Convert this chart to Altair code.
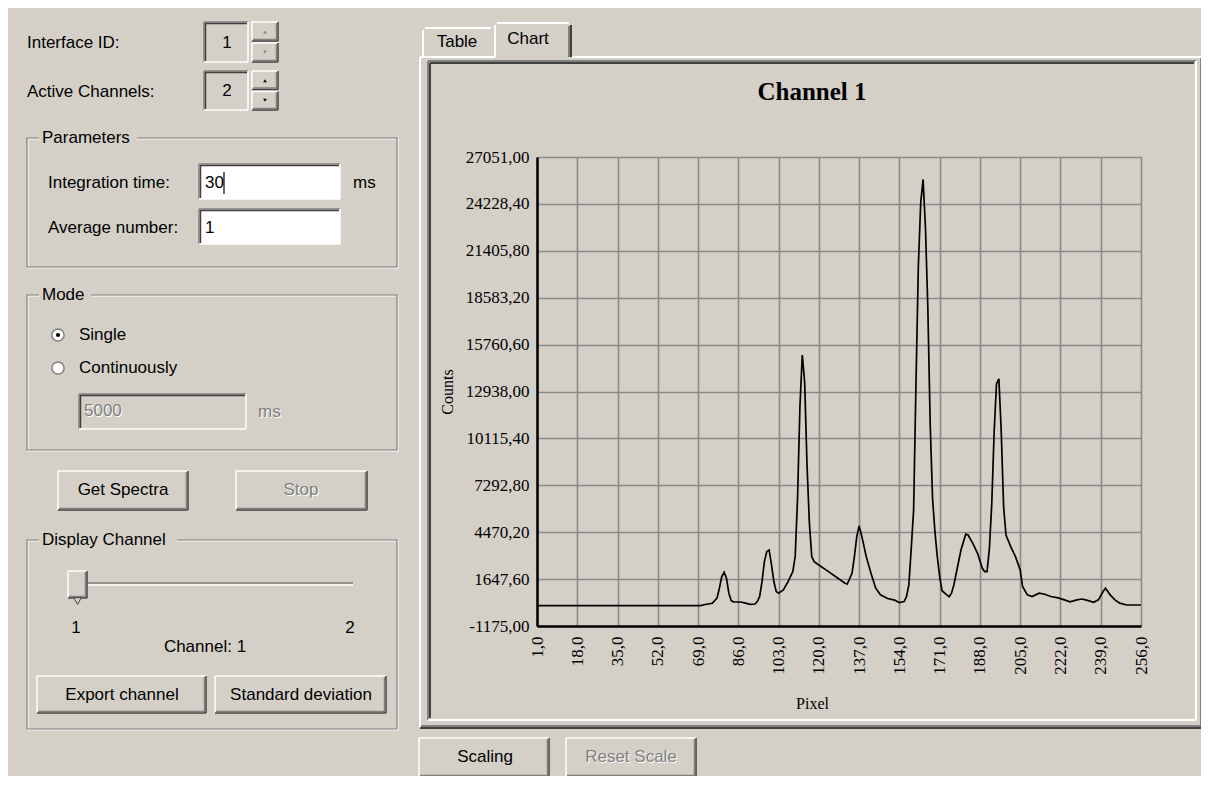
import altair as alt
import pandas as pd

# ---------------- data ----------------
pixel = [1, 70, 72, 75, 77, 78, 79, 80, 81, 82, 83, 84, 87, 89, 91, 93, 94, 95, 96, 97,
         98, 99, 100, 101, 102, 103, 105, 107, 109, 110, 111, 112, 113, 114, 115, 116, 117,
         118, 120, 123, 127, 131, 132, 134, 135, 136, 137, 138, 140, 142, 144, 146, 149,
         152, 154, 156, 157, 158, 159, 160, 161, 162, 163, 164, 165, 166, 167, 168, 169,
         170, 171, 172, 174, 175, 176, 177, 178, 180, 182, 183, 185, 187, 189, 190, 191,
         192, 193, 194, 195, 196, 197, 198, 199, 201, 203, 205, 206, 208, 210, 213, 215,
         218, 221, 224, 226, 229, 231, 233, 236, 238, 240, 241, 243, 245, 247, 250, 256]
counts = [50, 50, 120, 190, 500, 1100, 1800, 2060, 1700, 800, 350, 280, 270, 200, 130, 150,
          300, 600, 1500, 2700, 3300, 3400, 2500, 1500, 900, 800, 1000, 1500, 2100, 3000,
          6500, 12000, 15135, 13500, 8500, 5000, 3000, 2700, 2500, 2200, 1800, 1400, 1350,
          2000, 3000, 4200, 4850, 4300, 3000, 2000, 1100, 700, 480, 380, 230, 300, 600, 1300,
          3500, 5800, 13400, 20500, 24300, 25700, 22800, 18000, 11000, 6500, 4500, 3000, 1800,
          950, 700, 590, 800, 1300, 2000, 3400, 4350, 4300, 3800, 3200, 2300, 2100, 2100,
          3500, 6200, 10500, 13400, 13700, 10500, 6000, 4300, 3600, 3000, 2200, 1200, 700,
          600, 800, 750, 600, 520, 380, 280, 400, 450, 380, 250, 400, 900, 1100, 700, 400,
          200, 90, 90]

x_ticks = [1, 18, 35, 52, 69, 86, 103, 120, 137, 154, 171, 188, 205, 222, 239, 256]
y_ticks = [-1175.0, 1647.6, 4470.2, 7292.8, 10115.4, 12938.0, 15760.6, 18583.2,
           21405.8, 24228.4, 27051.0]

chart_title = "Channel 1"
x_title = "Pixel"
y_title = "Counts"
tab_labels = ["Table", "Chart"]
button_labels = ["Scaling", "Reset Scale"]
form_labels = ["Interface ID:", "Active Channels:", "Integration time:", "Average number:",
               "ms", "Single", "Continuously", "5000", "ms", "Channel:  1"]
form_values = ["1", "2", "30", "1"]
group_labels = ["Parameters", "Mode", "Display Channel"]
form_buttons = ["Get Spectra", "Stop", "Export channel", "Standard deviation"]
slider_ends = ["1", "2"]

# ---------------- styling ----------------
W, H = 604, 469
OX, OY = 537, 157          # page position of the plot area's top-left corner
BG = "#D4D0C8"
SERIF = "Liberation Serif"
SANS = "Liberation Sans"
WHITE, GRAY, DARK, BLACK = "#FFFFFF", "#808080", "#404040", "#000000"

df = pd.DataFrame({"Pixel": pixel, "Counts": counts})
one = pd.DataFrame({"k": [0]})

line = alt.Chart(df).mark_line(color=BLACK, strokeWidth=1.7).encode(
    x=alt.X("Pixel:Q",
            scale=alt.Scale(domain=[1, 256], nice=False, zero=False),
            axis=alt.Axis(values=x_ticks, title=x_title,
                          labelExpr="replace(format(datum.value, '.1f'), '.', ',')",
                          labelAngle=270, labelAlign="right", labelBaseline="middle",
                          labelPadding=10, labelFont=SERIF, labelFontSize=17,
                          labelColor=BLACK, labelOverlap=False,
                          titleFont=SERIF, titleFontSize=16, titleFontWeight="normal",
                          titleColor=BLACK, titleX=275, titleY=77,
                          titleBaseline="middle", ticks=False,
                          domainColor=BLACK, domainWidth=2.5,
                          gridColor="#8A8A8A", gridWidth=1.6, grid=True)),
    y=alt.Y("Counts:Q",
            scale=alt.Scale(domain=[-1175, 27051], nice=False, zero=False),
            axis=alt.Axis(values=y_ticks, title=y_title,
                          labelExpr="(datum.value < 0 ? '-' : '') + replace(format(abs(datum.value), '.2f'), '.', ',')",
                          labelPadding=8, labelFont=SERIF, labelFontSize=17,
                          labelColor=BLACK, labelOverlap=False,
                          titleFont=SERIF, titleFontSize=16, titleFontWeight="normal",
                          titleColor=BLACK, titleX=-90, titleY=H / 2,
                          titleBaseline="middle", ticks=False,
                          domainColor=BLACK, domainWidth=2.5,
                          gridColor="#8A8A8A", gridWidth=1.6, grid=True)),
)


# ---------- window decoration helpers (page pixel coordinates) ----------
def hseg(x1, x2, y, color, w=1.5):
    return alt.Chart(one).mark_rule(color=color, strokeWidth=w).encode(
        x=alt.value(x1 - OX), x2=alt.value(x2 - OX), y=alt.value(y - OY))


def vseg(x, y1, y2, color, w=1.5):
    return alt.Chart(one).mark_rule(color=color, strokeWidth=w).encode(
        x=alt.value(x - OX), y=alt.value(y1 - OY), y2=alt.value(y2 - OY))


def box(x1, y1, x2, y2, fill=None, stroke=None, w=1):
    kw = {}
    if fill is not None:
        kw["fill"] = fill
    else:
        kw["fillOpacity"] = 0
    if stroke is not None:
        kw["stroke"] = stroke
        kw["strokeWidth"] = w
    return alt.Chart(one).mark_rect(**kw).encode(
        x=alt.value(x1 - OX), x2=alt.value(x2 - OX),
        y=alt.value(y1 - OY), y2=alt.value(y2 - OY))


def text(x, y, s, color=BLACK, size=17, align="center", font=SANS, weight="normal"):
    return alt.Chart(one).mark_text(font=font, fontSize=size, color=color, align=align,
                                    baseline="middle", fontWeight=weight).encode(
        x=alt.value(x - OX), y=alt.value(y - OY), text=alt.value(s))


def dim_text(x, y, s, align="center"):
    return [text(x + 1, y + 1, s, color=WHITE, align=align),
            text(x, y, s, color=GRAY, align=align)]


def raised(x1, y1, x2, y2):
    return [hseg(x1, x2, y1, WHITE), vseg(x1, y1, y2, WHITE),
            hseg(x1, x2, y2, DARK), vseg(x2, y1, y2, DARK),
            hseg(x1 + 1, x2 - 1, y2 - 1.5, GRAY), vseg(x2 - 1.5, y1 + 1, y2 - 1, GRAY)]


def sunken(x1, y1, x2, y2, fill=None):
    out = []
    if fill is not None:
        out.append(box(x1, y1, x2, y2, fill=fill))
    out += [hseg(x1, x2, y1, GRAY), vseg(x1, y1, y2, GRAY),
            hseg(x1 + 1.5, x2 - 1, y1 + 1.5, DARK), vseg(x1 + 1.5, y1 + 1, y2 - 1, DARK),
            hseg(x1, x2, y2, WHITE), vseg(x2, y1, y2, WHITE)]
    return out


def group(x1, y1, x2, y2, label, lw):
    return [box(x1 + 1, y1 + 1, x2 + 1, y2 + 1, stroke=WHITE, w=1.2),
            box(x1, y1, x2, y2, stroke=GRAY, w=1.2),
            box(x1 + 12, y1 - 8, x1 + 16 + lw, y1 + 8, fill=BG),
            text(x1 + 15, y1, label, align="left")]


def spin(x1, y1, x2, y2, active):
    ym = (y1 + y2) / 2
    col = BLACK if active else GRAY
    out = raised(x1, y1, x2, ym - 1) + raised(x1, ym + 1, x2, y2)
    cx = (x1 + x2) / 2
    out.append(alt.Chart(one).mark_point(shape="triangle-up", filled=True, color=col,
                                         size=14, opacity=1).encode(
        x=alt.value(cx - OX), y=alt.value((y1 + ym) / 2 - OY)))
    out.append(alt.Chart(one).mark_point(shape="triangle-down", filled=True, color=col,
                                         size=14, opacity=1).encode(
        x=alt.value(cx - OX), y=alt.value((ym + y2) / 2 - OY)))
    return out


def radio(cx, cy, checked):
    out = [alt.Chart(one).mark_point(shape="circle", filled=True, fill=WHITE,
                                     stroke=GRAY, strokeWidth=1.5, size=150,
                                     opacity=1).encode(
        x=alt.value(cx - OX), y=alt.value(cy - OY))]
    if checked:
        out.append(alt.Chart(one).mark_point(shape="circle", filled=True, color=BLACK,
                                             size=18, opacity=1).encode(
            x=alt.value(cx - OX), y=alt.value(cy - OY)))
    return out


decor = []
# ---- right side: tab control, chart frame, buttons ----
decor += [
    hseg(420, 495, 57, WHITE, 2), hseg(572, 1203, 57, WHITE, 2),
    vseg(420, 57, 728, WHITE, 2),
    vseg(1203, 57, 728, DARK, 2), vseg(1201, 58, 727, GRAY, 2),
    hseg(420, 1203, 728, DARK, 2), hseg(421, 1202, 726, GRAY, 2),
    hseg(428, 1196, 61, GRAY, 2), hseg(430, 1194, 63, DARK, 2),
    vseg(428, 61, 720, GRAY, 2), vseg(430, 63, 718, DARK, 2),
    vseg(1196, 61, 720, WHITE, 2), hseg(428, 1196, 720, WHITE, 2),
    hseg(425, 491, 28, WHITE, 2), vseg(423, 30, 57, WHITE, 2),
    hseg(497, 569, 23, WHITE, 2), vseg(495, 25, 57, WHITE, 2),
    vseg(571, 25, 57, DARK, 2), vseg(569, 26, 57, GRAY, 2),
    text(457, 42, tab_labels[0]), text(528, 39, tab_labels[1]),
    text(812, 92, chart_title, font=SERIF, size=25, weight="bold"),
]
decor += raised(419, 738, 549, 777) + [text(485, 757, button_labels[0])]
decor += raised(566, 738, 696, 777) + dim_text(631, 757, button_labels[1])

# ---- left side: acquisition form ----
decor += [text(27, 43, form_labels[0], align="left"),
          text(27, 92, form_labels[1], align="left")]
decor += sunken(204, 22, 248, 62) + [text(227, 43, form_values[0])]
decor += spin(252, 22, 278, 62, False)
decor += sunken(204, 71, 248, 110) + [text(227, 91, form_values[1])]
decor += spin(252, 71, 278, 110, True)

decor += group(27, 138, 397, 267, group_labels[0], 94)
decor += [text(48, 183, form_labels[2], align="left"),
          text(48, 228, form_labels[3], align="left")]
decor += sunken(199, 164, 340, 199, fill=WHITE) + [text(205, 183, form_values[2], align="left"),
                                                   vseg(224, 172, 194, BLACK, 1.2)]
decor += sunken(199, 209, 340, 244, fill=WHITE) + [text(205, 228, form_values[3], align="left")]
decor += [text(353, 183, form_labels[4], align="left")]

decor += group(27, 295, 397, 450, group_labels[1], 48)
decor += radio(58, 335, True) + [text(79, 335, form_labels[5], align="left")]
decor += radio(58, 368, False) + [text(79, 368, form_labels[6], align="left")]
decor += sunken(79, 394, 246, 429) + dim_text(84, 411, form_labels[7], align="left")
decor += dim_text(258, 412, form_labels[8], align="left")

decor += raised(58, 471, 188, 510) + [text(123, 490, form_buttons[0])]
decor += raised(236, 471, 367, 510) + dim_text(301, 490, form_buttons[1])

decor += group(27, 540, 397, 729, group_labels[2], 134)
decor += [hseg(87, 353, 583, GRAY, 1.5), hseg(87, 353, 585, WHITE, 1.5)]
decor += [box(68, 571, 87, 598, fill=BG)] + raised(68, 571, 87, 598)
decor += [alt.Chart(one).mark_point(shape="triangle-down", filled=True, fill=BG,
                                    stroke=DARK, strokeWidth=1, size=60, opacity=1).encode(
    x=alt.value(77.5 - OX), y=alt.value(601 - OY))]
decor += [text(76, 628, slider_ends[0]), text(350, 628, slider_ends[1]),
          text(205, 647, form_labels[9])]
decor += raised(37, 676, 206, 713) + [text(122, 695, form_buttons[2])]
decor += raised(215, 676, 386, 713) + [text(301, 695, form_buttons[3])]

chart = alt.layer(line, *decor).properties(
    width=W, height=H,
    background=BG,
    padding={"left": OX - 8, "top": OY - 8, "right": 60, "bottom": 150},
    autosize=alt.AutoSizeParams(type="none"),
).configure_view(strokeOpacity=0)

chart.save("out.html", embed_options={"renderer": "svg", "actions": False})
